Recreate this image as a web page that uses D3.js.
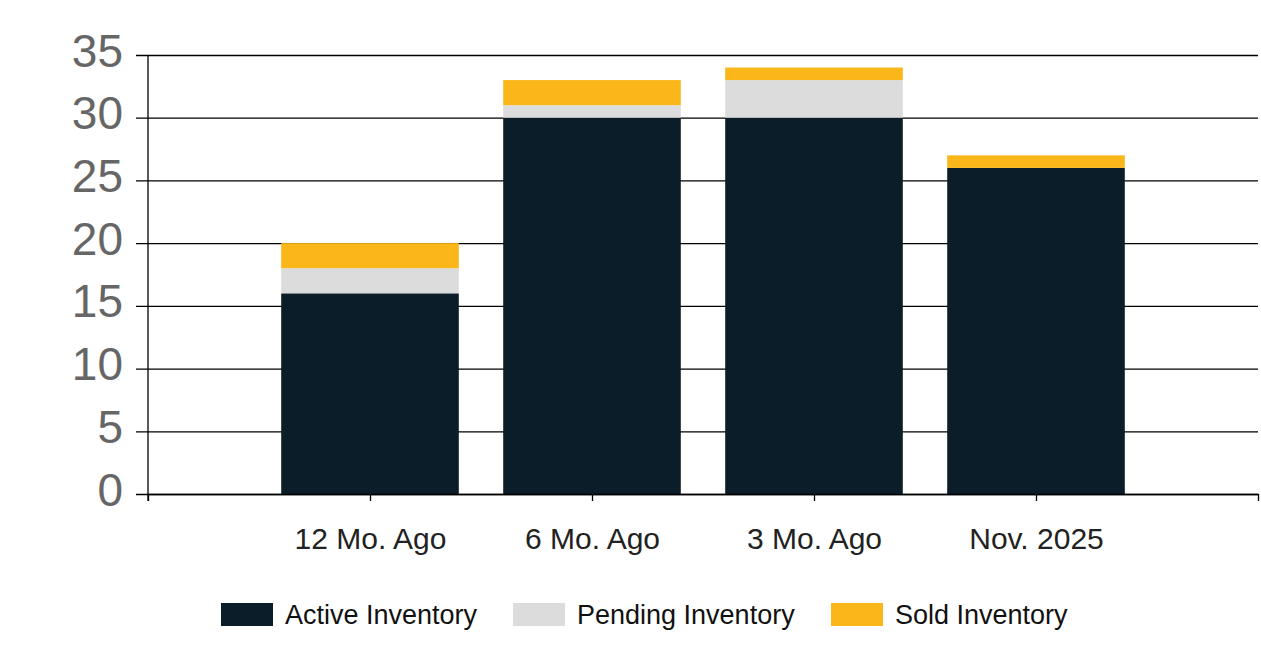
<!DOCTYPE html>
<html>
<head>
<meta charset="utf-8">
<script src="https://cdn.jsdelivr.net/npm/d3@7"></script>
<style>
  body { margin: 0; background: #fff; }
  svg { display: block; font-family: "Liberation Sans", Arial, sans-serif; }
</style>
</head>
<body>
<svg id="chart"></svg>
<script>
const categories = ["12 Mo. Ago", "6 Mo. Ago", "3 Mo. Ago", "Nov. 2025"];
const activeInventory = [16, 30, 30, 26];
const pendingInventory = [2, 1, 3, 0];
const soldInventory = [2, 2, 1, 1];
const seriesNames = ["Active Inventory", "Pending Inventory", "Sold Inventory"];
const seriesColors = ["#0b1d28", "#dcdcdc", "#fbb61a"];
const yTicks = [0, 5, 10, 15, 20, 25, 30, 35];

const dimensions = {
  width: 1261,
  height: 663,
  margin: { top: 55, right: 3, bottom: 169, left: 148 }
};
dimensions.boundedWidth =
  dimensions.width - dimensions.margin.left - dimensions.margin.right;
dimensions.boundedHeight =
  dimensions.height - dimensions.margin.top - dimensions.margin.bottom;

const rows = categories.map((c, i) => ({
  category: c,
  "Active Inventory": activeInventory[i],
  "Pending Inventory": pendingInventory[i],
  "Sold Inventory": soldInventory[i]
}));

const stacked = d3.stack().keys(seriesNames)(rows);

const wrapper = d3
  .select("#chart")
  .attr("width", dimensions.width)
  .attr("height", dimensions.height);

const bounds = wrapper
  .append("g")
  .attr("transform", `translate(${dimensions.margin.left},${dimensions.margin.top})`);

// scales
const xScale = d3
  .scalePoint()
  .domain(categories)
  .range([0, dimensions.boundedWidth])
  .padding(1);

const yScale = d3
  .scaleLinear()
  .domain([0, 35])
  .range([dimensions.boundedHeight, 0]);

const barWidth = xScale.step() * 0.8;

// gridlines + y axis
const yAxis = bounds
  .append("g")
  .call(
    d3.axisLeft(yScale)
      .tickValues(yTicks)
      .tickSize(-dimensions.boundedWidth)
      .tickSizeOuter(0)
  );
yAxis.select(".domain").remove();
yAxis.selectAll(".tick line")
  .attr("x1", -12)
  .attr("stroke", "#000")
  .attr("stroke-width", 1.3);
yAxis.selectAll(".tick text")
  .attr("x", -25)
  .attr("dy", "0.24em")
  .attr("fill", "#666")
  .style("font-size", "46px");

// bars
bounds
  .append("g")
  .selectAll("g")
  .data(stacked)
  .join("g")
  .attr("fill", (d, i) => seriesColors[i])
  .selectAll("rect")
  .data(d => d)
  .join("rect")
  .attr("x", d => xScale(d.data.category) - barWidth / 2)
  .attr("y", d => yScale(d[1]))
  .attr("width", barWidth)
  .attr("height", d => yScale(d[0]) - yScale(d[1]));

// y axis line
bounds
  .append("line")
  .attr("x1", 0)
  .attr("x2", 0)
  .attr("y1", 0)
  .attr("y2", dimensions.boundedHeight + 7)
  .attr("stroke", "#000")
  .attr("stroke-width", 1.3);

// x axis
const xAxis = bounds
  .append("g")
  .attr("transform", `translate(0,${dimensions.boundedHeight})`)
  .call(d3.axisBottom(xScale).tickSize(7).tickSizeOuter(7));
xAxis.selectAll("path, line").attr("stroke", "#000").attr("stroke-width", 1.3);
xAxis.selectAll(".tick text")
  .attr("y", 34)
  .attr("dy", "0.71em")
  .attr("fill", "#222")
  .style("font-size", "30px");

// legend
const legendX = [221, 513, 831];
const legend = wrapper
  .append("g")
  .selectAll("g")
  .data(seriesNames)
  .join("g")
  .attr("transform", (d, i) => `translate(${legendX[i]},603)`);
legend
  .append("rect")
  .attr("width", 52)
  .attr("height", 23)
  .attr("fill", (d, i) => seriesColors[i]);
legend
  .append("text")
  .attr("x", 64)
  .attr("y", 21)
  .attr("fill", "#111")
  .style("font-size", "27px")
  .text(d => d);
</script>
</body>
</html>
